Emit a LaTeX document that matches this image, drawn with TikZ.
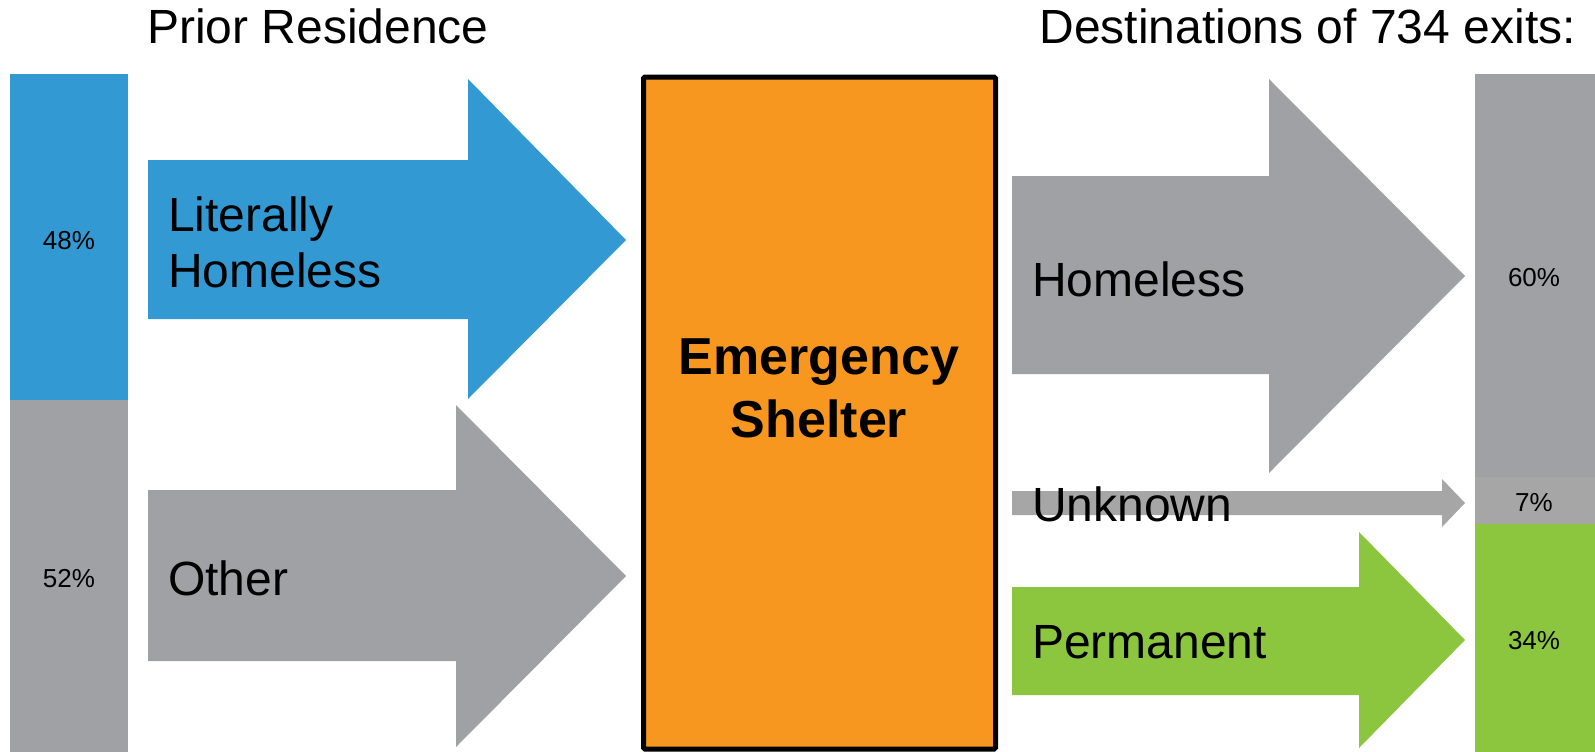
\documentclass[tikz,border=0pt]{standalone}
\usepackage{fontspec}
\setmainfont{Liberation Sans}
\definecolor{cblue}{RGB}{50,153,210}
\definecolor{cgray}{RGB}{160,161,165}
\definecolor{clgray}{RGB}{166,166,166}
\definecolor{corange}{RGB}{247,151,31}
\definecolor{cgreen}{RGB}{140,198,63}
\begin{document}
\begin{tikzpicture}[x=1pt,y=-1pt,
  big/.style={inner sep=0pt,font=\fontsize{48}{53}\selectfont},
  pct/.style={inner sep=0pt,anchor=base,font=\fontsize{26}{29}\selectfont},
  title/.style={inner sep=0pt,font=\fontsize{52}{58}\selectfont\bfseries,anchor=base}]
\useasboundingbox[fill=white] (0,0) rectangle (1595,752);
% left bar
\fill[cblue] (10,74) rectangle (128,400);
\fill[cgray] (10,400) rectangle (128,752);
% right bar
\fill[cgray] (1475,74) rectangle (1595,477);
\fill[clgray] (1475,477) rectangle (1595,524);
\fill[cgreen] (1475,524) rectangle (1595,752);
% arrows in
\fill[cblue] (148,160) -- (468,160) -- (468,79) -- (626,240) -- (468,399) -- (468,319) -- (148,319) -- cycle;
\fill[cgray] (148,490) -- (456,490) -- (456,405) -- (626,576) -- (456,747) -- (456,661) -- (148,661) -- cycle;
% shelter
\node[draw=black,fill=corange,line width=5pt,minimum width=352pt,minimum height=672pt,inner sep=0pt,rounded corners=1.5pt] (shelter) at (819.5,413) {};
\node[title] (em) at (819,374) {Emergency};
\node[title] (sh) at (819,437) {Shelter};
% arrows out
\fill[cgray] (1012,176) -- (1269,176) -- (1269,79) -- (1465,276) -- (1269,473) -- (1269,374) -- (1012,374) -- cycle;
\fill[clgray] (1012,491) -- (1442,491) -- (1442,479) -- (1465,503) -- (1442,527) -- (1442,515) -- (1012,515) -- cycle;
\fill[cgreen] (1012,587) -- (1359,587) -- (1359,532) -- (1465,640) -- (1359,748) -- (1359,695) -- (1012,695) -- cycle;
% titles
\node[big,anchor=base west] (prior) at (147,44) {Prior Residence};
\node[big,anchor=base east] (dest) at (1576,44) {Destinations of 734 exits:};
% labels
\node[big,anchor=base west] (lit1) at (168,231) {Literally};
\node[big,anchor=base west] (lit2) at (168,287) {Homeless};
\node[big,anchor=base west] (oth) at (168,595) {Other};
\node[big,anchor=base west] (hom) at (1032,296) {Homeless};
\node[big,anchor=base west] (unk) at (1032,521) {Unknown};
\node[big,anchor=base west] (perm) at (1032,658) {Permanent};
% percentages
\node[pct] (p48) at (69,249) {48\%};
\node[pct] (p52) at (69,587) {52\%};
\node[pct] (p60) at (1534,286) {60\%};
\node[pct] (p7) at (1534,511) {7\%};
\node[pct] (p34) at (1534,649) {34\%};
\end{tikzpicture}
\end{document}
